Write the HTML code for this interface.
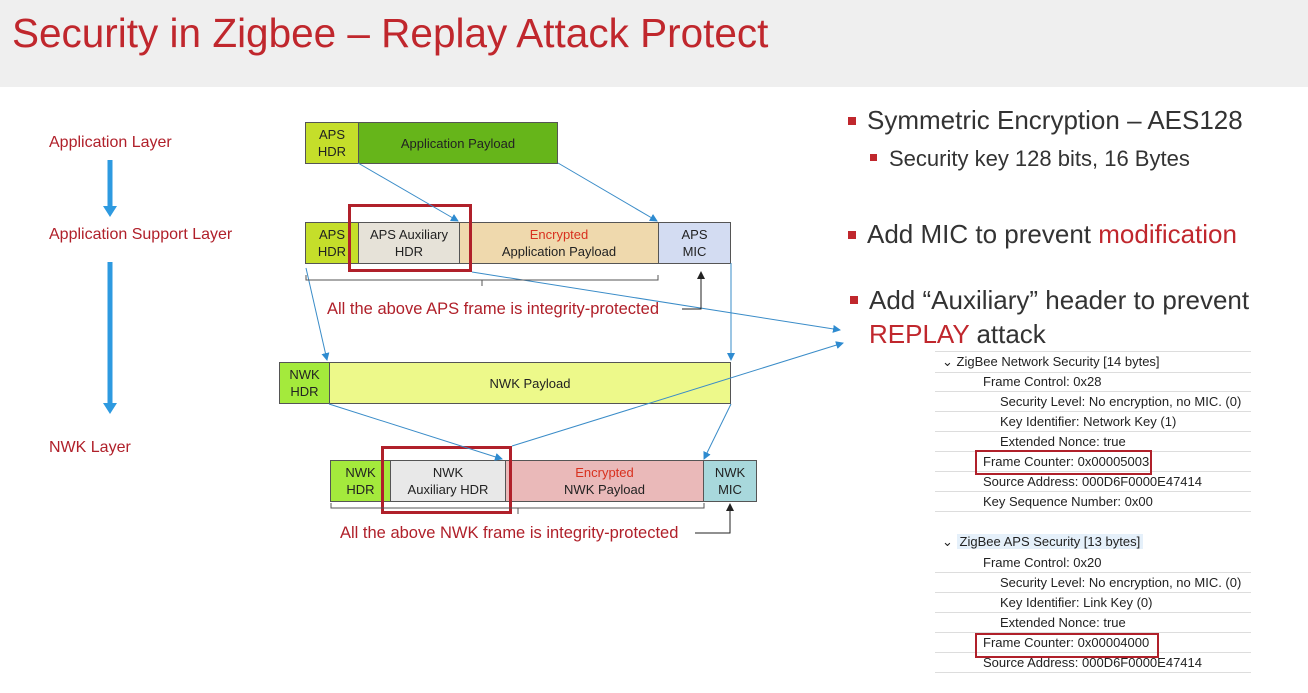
<!DOCTYPE html>
<html><head><meta charset="utf-8"><style>
body{margin:0;width:1308px;height:693px;background:#fff;position:relative;overflow:hidden;font-family:"Liberation Sans",sans-serif}
.hdr{position:absolute;left:0;top:0;width:1308px;height:87px;background:#efefef}
.title{position:absolute;left:12px;top:10px;font-size:40.5px;color:#c0272d;white-space:nowrap}
.t{position:absolute;white-space:nowrap}
.box{position:absolute;box-sizing:border-box;border:1px solid #555;display:flex;align-items:center;justify-content:center;text-align:center;font-size:13px;line-height:17px;color:#222}
.lbl{position:absolute;color:#b0202a;font-size:16px;white-space:nowrap}
.bul{position:absolute;width:8px;height:8px;background:#c0272d}
.row{position:absolute;left:935px;width:316px;height:20px;border-bottom:1px solid #ddd;font-size:13px;line-height:20px;color:#222;white-space:nowrap}
.fc{position:absolute;border:2px solid #b0202a;box-sizing:border-box}
</style></head><body>
<div class="hdr"></div>
<div class="title">Security in Zigbee – Replay Attack Protect</div>

<div class="lbl" style="left:49px;top:134px">Application Layer</div>
<div class="lbl" style="left:49px;top:226px">Application Support Layer</div>
<div class="lbl" style="left:49px;top:439px">NWK Layer</div>

<div class="box" style="left:305px;top:122px;width:54px;height:42px;background:#c5de2a">APS<br>HDR</div>
<div class="box" style="left:358px;top:122px;width:200px;height:42px;background:#66b51a">Application Payload</div>

<div class="box" style="left:305px;top:222px;width:54px;height:42px;background:#c5de2a">APS<br>HDR</div>
<div class="box" style="left:358px;top:222px;width:102px;height:42px;background:#e6e2d8">APS Auxiliary<br>HDR</div>
<div class="box" style="left:459px;top:222px;width:200px;height:42px;background:#efd9ad"><span><span style="color:#d8301e">Encrypted</span><br>Application Payload</span></div>
<div class="box" style="left:658px;top:222px;width:73px;height:42px;background:#d3dcf2">APS<br>MIC</div>
<div class="fc" style="left:348px;top:204px;width:124px;height:68px;border-width:3px"></div>

<div class="box" style="left:279px;top:362px;width:51px;height:42px;background:#a4ea3c">NWK<br>HDR</div>
<div class="box" style="left:329px;top:362px;width:402px;height:42px;background:#edf98a">NWK Payload</div>

<div class="box" style="left:330px;top:460px;width:61px;height:42px;background:#a4ea3c">NWK<br>HDR</div>
<div class="box" style="left:390px;top:460px;width:116px;height:42px;background:#e8e8e8">NWK<br>Auxiliary HDR</div>
<div class="box" style="left:505px;top:460px;width:199px;height:42px;background:#eab9b9"><span><span style="color:#d8301e">Encrypted</span><br>NWK Payload</span></div>
<div class="box" style="left:703px;top:460px;width:54px;height:42px;background:#a8d8dc">NWK<br>MIC</div>
<div class="fc" style="left:381px;top:446px;width:131px;height:68px;border-width:3px"></div>

<div class="lbl" style="left:327px;top:300px;font-size:16.5px">All the above APS frame is integrity-protected</div>
<div class="lbl" style="left:340px;top:524px;font-size:16.5px">All the above NWK frame is integrity-protected</div>

<svg width="1308" height="693" style="position:absolute;left:0;top:0">
<defs><marker id="a" markerWidth="8" markerHeight="8" refX="7" refY="4" orient="auto"><path d="M0,0L8,4L0,8z" fill="#2e8bd0"/></marker>
<marker id="k" markerWidth="8" markerHeight="8" refX="7" refY="4" orient="auto"><path d="M0,0L8,4L0,8z" fill="#222"/></marker></defs>
<g stroke="#2e9ae0" stroke-width="5"><line x1="110" y1="160" x2="110" y2="208"/><line x1="110" y1="262" x2="110" y2="405"/></g>
<path d="M103,206L117,206L110,217z M103,403L117,403L110,414z" fill="#2e9ae0"/>
<g stroke="#3a8cc8" stroke-width="1" fill="none" marker-end="url(#a)">
<line x1="358" y1="163" x2="458" y2="221"/><line x1="558" y1="163" x2="657" y2="221"/>
<line x1="306" y1="268" x2="327" y2="360"/><line x1="731" y1="263" x2="731" y2="360"/>
<line x1="329" y1="404" x2="502" y2="459"/><line x1="731" y1="404" x2="704" y2="459"/>
<line x1="472" y1="272" x2="840" y2="330"/><line x1="512" y1="446" x2="843" y2="343"/>
</g>
<g stroke="#555" fill="none" stroke-width="1">
<path d="M306,275 v5 h352 v-5 M482,280 v6"/><path d="M331,503 v5 h373 v-5 M518,508 v6"/>
</g>
<g stroke="#222" fill="none" stroke-width="1">
<path d="M682,309 H701 V272" marker-end="url(#k)"/><path d="M695,533 H730 V504" marker-end="url(#k)"/>
</g>
</svg>

<div class="bul" style="left:848px;top:117px"></div><div class="t" style="left:867px;top:105px;font-size:26px;color:#333">Symmetric Encryption – AES128</div>
<div class="bul" style="left:870px;top:154px;width:7px;height:7px"></div><div class="t" style="left:889px;top:146px;font-size:22px;color:#333">Security key 128 bits, 16 Bytes</div>
<div class="bul" style="left:848px;top:231px"></div><div class="t" style="left:867px;top:219px;font-size:26px;color:#333">Add MIC to prevent <span style="color:#c0272d">modification</span></div>
<div class="bul" style="left:850px;top:296px"></div><div class="t" style="left:869px;top:285px;font-size:26px;color:#333">Add “Auxiliary” header to prevent</div>
<div class="t" style="left:869px;top:319px;font-size:26px;color:#333"><span style="color:#c0272d">REPLAY</span> attack</div>

<div class="row" style="top:351px;border-top:1px solid #ddd"><span style="margin-left:7px">⌄</span> ZigBee Network Security [14 bytes]</div>
<div class="row" style="top:372px;padding-left:48px;box-sizing:border-box">Frame Control: 0x28</div>
<div class="row" style="top:392px;padding-left:65px;box-sizing:border-box">Security Level: No encryption, no MIC. (0)</div>
<div class="row" style="top:412px;padding-left:65px;box-sizing:border-box">Key Identifier: Network Key (1)</div>
<div class="row" style="top:432px;padding-left:65px;box-sizing:border-box">Extended Nonce: true</div>
<div class="row" style="top:452px;padding-left:48px;box-sizing:border-box">Frame Counter: 0x00005003</div>
<div class="row" style="top:472px;padding-left:48px;box-sizing:border-box">Source Address: 000D6F0000E47414</div>
<div class="row" style="top:492px;padding-left:48px;box-sizing:border-box">Key Sequence Number: 0x00</div>
<div class="row" style="top:532px;border:none"><span style="margin-left:7px">⌄</span> <span style="background:#e5f0fa;padding:0 3px">ZigBee APS Security [13 bytes]</span></div>
<div class="row" style="top:553px;padding-left:48px;box-sizing:border-box">Frame Control: 0x20</div>
<div class="row" style="top:573px;padding-left:65px;box-sizing:border-box">Security Level: No encryption, no MIC. (0)</div>
<div class="row" style="top:593px;padding-left:65px;box-sizing:border-box">Key Identifier: Link Key (0)</div>
<div class="row" style="top:613px;padding-left:65px;box-sizing:border-box">Extended Nonce: true</div>
<div class="row" style="top:633px;padding-left:48px;box-sizing:border-box">Frame Counter: 0x00004000</div>
<div class="row" style="top:653px;padding-left:48px;box-sizing:border-box">Source Address: 000D6F0000E47414</div>
<div class="fc" style="left:975px;top:450px;width:177px;height:25px"></div>
<div class="fc" style="left:975px;top:633px;width:184px;height:25px"></div>
</body></html>
